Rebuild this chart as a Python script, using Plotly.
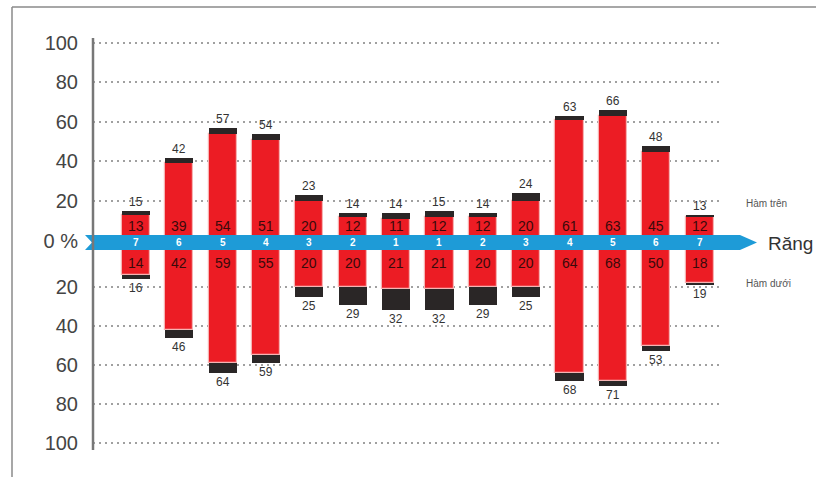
import plotly.graph_objects as go

# Tooth positions along each jaw (left 7 → 1, right 1 → 7)
teeth = ["7", "6", "5", "4", "3", "2", "1", "1", "2", "3", "4", "5", "6", "7"]

# Upper jaw (Hàm trên): red part and total height
upper_red = [13, 39, 54, 51, 20, 12, 11, 12, 12, 20, 61, 63, 45, 12]
upper_total = [15, 42, 57, 54, 23, 14, 14, 15, 14, 24, 63, 66, 48, 13]

# Lower jaw (Hàm dưới): red part and total height
lower_red = [14, 42, 59, 55, 20, 20, 21, 21, 20, 20, 64, 68, 50, 18]
lower_total = [16, 46, 64, 59, 25, 29, 32, 32, 29, 25, 68, 71, 53, 19]

y_ticks = [0, 20, 40, 60, 80, 100]

RED = "#ec1c24"
DARK = "#2a2626"
BLUE = "#1e9bd7"
TXT = "#444444"

W, H = 816, 477
L, R, T, B = 93, 96, 41, 32
PW, PH = W - L - R, H - T - B


def px(x):
    return (x - L) / PW


def py(y):
    return (H - B - y) / PH


idx = list(range(len(teeth)))
upper_dark = [t - r for t, r in zip(upper_total, upper_red)]
lower_dark = [t - r for t, r in zip(lower_total, lower_red)]

fig = go.Figure()
bar_w = 0.65
red_line = dict(color="#f6b3b3", width=1.2)

fig.add_trace(go.Bar(x=idx, y=upper_red, base=0, width=bar_w, marker=dict(color=RED, line=red_line),
                     yaxis="y", hoverinfo="skip"))
fig.add_trace(go.Bar(x=idx, y=upper_dark, base=upper_red, width=bar_w, marker=dict(color=DARK, line=dict(width=0)),
                     yaxis="y", hoverinfo="skip"))
fig.add_trace(go.Bar(x=idx, y=lower_red, base=0, width=bar_w, marker=dict(color=RED, line=red_line),
                     yaxis="y2", hoverinfo="skip"))
fig.add_trace(go.Bar(x=idx, y=lower_dark, base=lower_red, width=bar_w, marker=dict(color=DARK, line=dict(width=0)),
                     yaxis="y2", hoverinfo="skip"))

annotations = []
for i in idx:
    # values of the red segments, next to the arrow
    annotations.append(dict(x=i, y=0, xref="x", yref="y", text=str(upper_red[i]), showarrow=False,
                            yanchor="bottom", yshift=5, font=dict(size=14, color="#3a0a0a")))
    annotations.append(dict(x=i, y=0, xref="x", yref="y2", text=str(lower_red[i]), showarrow=False,
                            yanchor="top", yshift=-5, font=dict(size=14, color="#3a0a0a")))
    # totals at the bar ends
    annotations.append(dict(x=i, y=upper_total[i], xref="x", yref="y", text=str(upper_total[i]), showarrow=False,
                            yanchor="bottom", yshift=0, font=dict(size=12, color="#333333")))
    annotations.append(dict(x=i, y=lower_total[i], xref="x", yref="y2", text=str(lower_total[i]), showarrow=False,
                            yanchor="top", yshift=0, font=dict(size=12, color="#333333")))
    # tooth number on the arrow
    annotations.append(dict(x=i, y=py(242.5), xref="x", yref="paper", text="<b>" + teeth[i] + "</b>",
                            showarrow=False, yanchor="middle", font=dict(size=10, color="white")))

annotations += [
    dict(x=px(766), y=py(243), xref="paper", yref="paper", text="Răng", showarrow=False,
         xanchor="left", yanchor="middle", font=dict(size=19, color="#333333")),
    dict(x=px(744), y=py(203), xref="paper", yref="paper", text="Hàm trên", showarrow=False,
         xanchor="left", yanchor="middle", font=dict(size=10, color="#555555")),
    dict(x=px(744), y=py(283), xref="paper", yref="paper", text="Hàm dưới", showarrow=False,
         xanchor="left", yanchor="middle", font=dict(size=10, color="#555555")),
]

# blue arrow along the zero line
a_top, a_bot, a_mid = py(235), py(250), py(242.5)
x0, xn, xb, xt = px(85), px(92), px(740), px(757)
arrow_path = (f"M {x0},{a_top} L {xb},{a_top} L {xt},{a_mid} L {xb},{a_bot} "
              f"L {x0},{a_bot} L {xn},{a_mid} Z")

shapes = [
    dict(type="path", path=arrow_path, xref="paper", yref="paper", fillcolor=BLUE,
         line=dict(width=0), layer="above"),
    # vertical axis line
    dict(type="line", xref="paper", yref="paper", x0=0, x1=0, y0=py(450), y1=py(38),
         line=dict(color="#777777", width=2.5)),
    # frame lines
    dict(type="line", xref="paper", yref="paper", x0=px(12), x1=px(816), y0=py(7), y1=py(7),
         line=dict(color="#8a8a8a", width=1.5)),
    dict(type="line", xref="paper", yref="paper", x0=px(12), x1=px(12), y0=py(7), y1=py(477),
         line=dict(color="#8a8a8a", width=1.5)),
]

upper_dom = [py(240.5), 1.0]
lower_dom = [0.0, py(248)]

axis_common = dict(
    showgrid=True, gridcolor="#a0a0a0", griddash="1.5px,4.5px", gridwidth=1.5,
    zeroline=False, showline=False, ticks="", ticklabelstandoff=14,
    tickfont=dict(size=20, color=TXT, family="Liberation Sans, Arial, sans-serif"),
    fixedrange=True,
)

fig.update_layout(
    width=W, height=H,
    margin=dict(l=L, r=R, t=T, b=B),
    paper_bgcolor="white", plot_bgcolor="white",
    barmode="overlay", bargap=0, showlegend=False,
    font=dict(family="Liberation Sans, Arial, sans-serif"),
    xaxis=dict(range=[-0.99, 13.47], showgrid=False, zeroline=False, showticklabels=False,
               showline=False, ticks="", fixedrange=True),
    yaxis=dict(domain=upper_dom, range=[0, 101], tickvals=y_ticks,
               ticktext=["0 %"] + [str(v) for v in y_ticks[1:]], **axis_common),
    yaxis2=dict(domain=lower_dom, range=[101, 0], tickvals=y_ticks[1:],
                ticktext=[str(v) for v in y_ticks[1:]], **axis_common),
    annotations=annotations,
    shapes=shapes,
)

fig.write_html("out.html")
